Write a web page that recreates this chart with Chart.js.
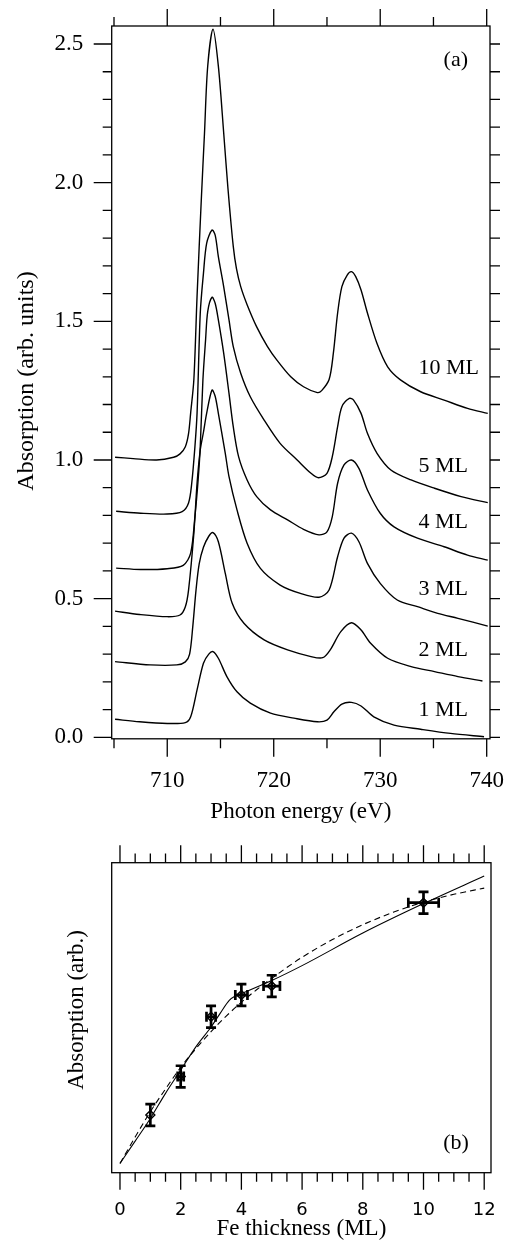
<!DOCTYPE html>
<html>
<head>
<meta charset="utf-8">
<script src="https://cdn.jsdelivr.net/npm/chart.js@4.4.1/dist/chart.umd.min.js"></script>
<style>
  html, body { margin: 0; padding: 0; background: #fff; }
  #wrap { position: relative; width: 512px; height: 1251px; }
  canvas { position: absolute; left: 0; }
  #spectra { top: 0; }
  #thickness { top: 830px; }
</style>
</head>
<body>
<div id="wrap">
  <canvas id="spectra" width="512" height="830"></canvas>
  <canvas id="thickness" width="512" height="421"></canvas>
</div>
<script>
// ---- panel (a): absorption spectra, energy (eV) / absorption pairs per thickness ----
const e10 = [705.1, 706.8, 709.0, 710.6, 711.2, 711.7, 712.0, 712.2, 712.5, 712.8, 713.2, 713.5, 713.8, 714.3, 714.8, 715.3, 715.7, 716.2, 716.5, 716.9, 717.5, 718.4, 719.4, 720.3, 721.6, 722.8, 724.1, 724.5, 725.2, 725.6, 726.0, 726.4, 726.9, 727.3, 727.7, 728.2, 728.8, 729.7, 730.7, 731.9, 733.8, 736.0, 738.2, 740.1];
const a10 = [1.01, 1.005, 1.0, 1.01, 1.022, 1.048, 1.095, 1.17, 1.29, 1.59, 1.94, 2.18, 2.42, 2.553, 2.42, 2.18, 1.98, 1.77, 1.69, 1.625, 1.56, 1.48, 1.41, 1.36, 1.30, 1.264, 1.243, 1.25, 1.29, 1.385, 1.53, 1.625, 1.667, 1.679, 1.661, 1.613, 1.53, 1.42, 1.336, 1.289, 1.246, 1.216, 1.186, 1.168];

const e5 = [705.2, 707.5, 710.0, 711.4, 712.0, 712.3, 712.6, 712.8, 713.1, 713.4, 713.7, 714.2, 714.5, 714.8, 715.3, 715.8, 716.2, 716.9, 717.8, 719.1, 720.6, 722.2, 723.5, 724.2, 725.0, 725.5, 726.0, 726.4, 727.1, 727.5, 728.2, 728.8, 729.7, 731.0, 732.9, 735.1, 737.6, 740.1];
const a5 = [0.815, 0.808, 0.805, 0.814, 0.845, 0.916, 1.048, 1.168, 1.529, 1.673, 1.781, 1.829, 1.811, 1.733, 1.625, 1.505, 1.409, 1.313, 1.228, 1.144, 1.06, 1.0, 0.952, 0.936, 0.952, 1.012, 1.12, 1.192, 1.222, 1.216, 1.168, 1.096, 1.024, 0.964, 0.928, 0.898, 0.868, 0.846];

const e4 = [705.2, 707.5, 710.0, 711.5, 712.2, 712.6, 712.9, 713.1, 713.35, 713.6, 713.8, 714.2, 714.5, 714.8, 715.3, 715.8, 716.2, 716.7, 717.5, 718.4, 719.7, 721.3, 722.8, 724.25, 725.0, 725.5, 726.0, 726.6, 727.3, 728.0, 728.8, 730.0, 731.3, 733.5, 736.0, 738.2, 740.1];
const a4 = [0.61, 0.605, 0.608, 0.62, 0.664, 0.796, 0.928, 1.048, 1.289, 1.433, 1.535, 1.587, 1.565, 1.505, 1.385, 1.24, 1.12, 1.012, 0.928, 0.868, 0.82, 0.784, 0.75, 0.73, 0.741, 0.796, 0.916, 0.982, 1.0, 0.97, 0.892, 0.808, 0.759, 0.718, 0.687, 0.657, 0.639];

const e3 = [705.1, 707.4, 710.0, 711.2, 711.7, 712.0, 712.5, 712.8, 713.1, 713.4, 713.7, 714.2, 714.5, 714.8, 715.45, 715.8, 716.55, 717.5, 718.75, 720.6, 722.5, 724.25, 725.2, 726.0, 726.6, 727.3, 728.0, 728.8, 730.0, 731.6, 733.5, 735.4, 737.3, 740.1];
const a3 = [0.455, 0.443, 0.435, 0.441, 0.471, 0.531, 0.736, 0.916, 1.036, 1.10, 1.168, 1.252, 1.23, 1.168, 1.024, 0.94, 0.82, 0.70, 0.609, 0.549, 0.519, 0.505, 0.531, 0.651, 0.718, 0.736, 0.705, 0.627, 0.555, 0.495, 0.471, 0.447, 0.429, 0.401];

const e2 = [705.1, 708.4, 710.9, 711.7, 712.1, 712.4, 712.7, 713.0, 713.4, 713.9, 714.3, 714.8, 715.45, 716.1, 717.2, 719.1, 721.3, 723.5, 724.6, 725.3, 726.3, 727.3, 728.2, 729.1, 730.7, 732.9, 735.1, 737.3, 739.6];
const a2 = [0.273, 0.261, 0.261, 0.272, 0.30, 0.40, 0.53, 0.625, 0.685, 0.725, 0.738, 0.705, 0.591, 0.483, 0.411, 0.351, 0.315, 0.291, 0.287, 0.315, 0.381, 0.413, 0.387, 0.339, 0.285, 0.255, 0.237, 0.219, 0.203];

const e1 = [705.1, 707.4, 710.0, 711.7, 712.2, 712.8, 713.4, 713.9, 714.3, 714.8, 715.6, 716.55, 717.8, 719.7, 721.9, 724.1, 725.0, 725.65, 726.4, 727.3, 728.2, 729.4, 731.3, 733.8, 736.6, 739.75];
const a1 = [0.065, 0.056, 0.05, 0.053, 0.074, 0.171, 0.267, 0.30, 0.309, 0.285, 0.219, 0.164, 0.123, 0.087, 0.069, 0.056, 0.062, 0.092, 0.12, 0.126, 0.113, 0.074, 0.044, 0.029, 0.014, 0.002];

const curveNames = ['10 ML', '5 ML', '4 ML', '3 ML', '2 ML', '1 ML'];
const curveLabelE = 733.6;
const curveLabelA = [1.332, 0.978, 0.775, 0.535, 0.313, 0.097];

const energyTicks = [710, 720, 730, 740];
const energyMinor = [705, 715, 725, 735];
const absTicks = [0, 0.5, 1.0, 1.5, 2.0, 2.5];
const absMinor = [];
for (let i = 1; i < 25; i++) if (i % 5) absMinor.push(i / 10);

// ---- panel (b): peak absorption vs Fe thickness ----
const thickness = [1, 2, 3, 4, 5, 10];
const peakAbs = [0.186, 0.31, 0.503, 0.573, 0.602, 0.871];
const thickErr = [0, 0.1, 0.15, 0.2, 0.27, 0.5];
const absErr = [0.035, 0.035, 0.035, 0.035, 0.035, 0.035];

const solidX = [0, 0.5, 1, 1.5, 2, 2.5, 3, 3.3, 3.6, 3.8, 4, 5, 6, 8, 10, 12];
const solidY = [0.03, 0.102, 0.175, 0.256, 0.331, 0.406, 0.47, 0.514, 0.556, 0.57, 0.578, 0.62, 0.668, 0.773, 0.868, 0.957];
const dashX = [0, 0.5, 1, 1.5, 2, 2.5, 3, 3.5, 4, 4.5, 5, 6, 7, 8, 9, 10, 11, 12];
const dashY = [0.03, 0.115, 0.197, 0.27, 0.34, 0.4, 0.455, 0.505, 0.55, 0.59, 0.627, 0.695, 0.752, 0.8, 0.84, 0.873, 0.898, 0.918];

const thickTicks = [0, 2, 4, 6, 8, 10, 12];
const thickMinor = [];
for (let i = 1; i < 24; i++) if (i % 4) thickMinor.push(i / 2);

Chart.defaults.font.family = "'Liberation Serif', 'Times New Roman', serif";
Chart.defaults.color = '#000';

function toPoints(xs, ys) {
    return xs.map((v, i) => ({ x: v, y: ys[i] }));
}

// keep axis boxes at the fixed size, no extra room for overhanging labels
function fixBox(size) {
    return s => {
        if (s.isHorizontal()) s.height = size; else s.width = size;
        s.paddingLeft = s.paddingRight = s.paddingTop = s.paddingBottom = 0;
    };
}

// box, tick marks and free text drawn with the chart's own scales
function makeFrame(cfg) {
    return {
        id: 'frame',
        afterDraw(chart) {
            const { ctx, chartArea: a } = chart;
            const xs = chart.scales.x, ys = chart.scales.y;
            ctx.save();
            ctx.strokeStyle = '#000';
            ctx.lineWidth = 1.3;
            ctx.strokeRect(a.left, a.top, a.right - a.left, a.bottom - a.top);
            ctx.beginPath();
            const mark = (side, values, len) => {
                values.forEach(v => {
                    if (side === 'top' || side === 'bottom') {
                        const p = xs.getPixelForValue(v);
                        const y0 = side === 'top' ? a.top : a.bottom;
                        ctx.moveTo(p, y0);
                        ctx.lineTo(p, y0 + (side === 'top' ? -len : len));
                    } else {
                        const p = ys.getPixelForValue(v);
                        const x0 = side === 'left' ? a.left : a.right;
                        ctx.moveTo(x0, p);
                        ctx.lineTo(x0 + (side === 'left' ? -len : len), p);
                    }
                });
            };
            cfg.ticks.forEach(t => {
                mark(t.side, t.major, t.majorLen);
                mark(t.side, t.minor, t.minorLen);
            });
            ctx.stroke();

            ctx.fillStyle = '#000';
            ctx.textBaseline = 'middle';
            cfg.texts.forEach(t => {
                ctx.font = t.font;
                ctx.textAlign = t.align;
                ctx.fillText(t.text, xs.getPixelForValue(t.x), ys.getPixelForValue(t.y));
            });

            // rotated y title
            const yt = cfg.yTitle;
            ctx.translate(yt.cx, yt.cy);
            ctx.rotate(-Math.PI / 2);
            ctx.font = yt.font;
            ctx.textAlign = 'center';
            ctx.fillText(yt.text, 0, 0);
            ctx.restore();
        }
    };
}

const errorBars = {
    id: 'errorBars',
    afterDatasetsDraw(chart) {
        const { ctx } = chart;
        const x = chart.scales.x, y = chart.scales.y;
        const cap = 5;
        ctx.save();
        ctx.strokeStyle = '#000';
        ctx.lineWidth = 2.7;
        ctx.beginPath();
        thickness.forEach((t, i) => {
            const px = x.getPixelForValue(t);
            const py = y.getPixelForValue(peakAbs[i]);
            const y1 = y.getPixelForValue(peakAbs[i] - absErr[i]);
            const y2 = y.getPixelForValue(peakAbs[i] + absErr[i]);
            ctx.moveTo(px, y1); ctx.lineTo(px, y2);
            ctx.moveTo(px - cap, y1); ctx.lineTo(px + cap, y1);
            ctx.moveTo(px - cap, y2); ctx.lineTo(px + cap, y2);
            if (thickErr[i] > 0) {
                const x1 = x.getPixelForValue(t - thickErr[i]);
                const x2 = x.getPixelForValue(t + thickErr[i]);
                ctx.moveTo(x1, py); ctx.lineTo(x2, py);
                ctx.moveTo(x1, py - cap); ctx.lineTo(x1, py + cap);
                ctx.moveTo(x2, py - cap); ctx.lineTo(x2, py + cap);
            }
        });
        ctx.stroke();
        ctx.restore();
    }
};

// --- panel (a) ---
const spectraSets = [[e10, a10], [e5, a5], [e4, a4], [e3, a3], [e2, a2], [e1, a1]].map(([e, a]) => ({
    data: toPoints(e, a),
    borderColor: '#000',
    borderWidth: 1.4,
    pointRadius: 0,
    fill: false,
    tension: 0.3
}));

const spectraTexts = curveNames.map((n, i) => ({
    text: n, x: curveLabelE, y: curveLabelA[i], align: 'left', font: "22px 'Liberation Serif'"
}));
spectraTexts.push({ text: '(a)', x: 737.1, y: 2.442, align: 'center', font: "22px 'Liberation Serif'" });

new Chart(document.getElementById('spectra'), {
    type: 'line',
    data: { datasets: spectraSets },
    options: {
        responsive: false,
        animation: false,
        devicePixelRatio: 1,
        layout: { autoPadding: false, padding: { top: 26, right: 22, left: 0, bottom: 0 } },
        plugins: { legend: { display: false }, tooltip: { enabled: false } },
        scales: {
            x: {
                type: 'linear', min: 704.784, max: 740.31,
                afterBuildTicks: s => { s.ticks = energyTicks.map(v => ({ value: v })); },
                afterFit: fixBox(91.2),
                grid: { display: false, drawTicks: false },
                border: { display: false },
                ticks: { autoSkip: false, maxRotation: 0, padding: 28.4, font: { size: 23, lineHeight: 1.2 }, callback: v => String(v) },
                title: { display: true, text: 'Photon energy (eV)', font: { size: 23, lineHeight: 1.2 }, padding: { top: 0, bottom: 4.2 } }
            },
            y: {
                type: 'linear', min: -0.0054, max: 2.5649,
                afterBuildTicks: s => { s.ticks = absTicks.map(v => ({ value: v })); },
                afterFit: fixBox(111.7),
                grid: { display: false, drawTicks: false },
                border: { display: false },
                ticks: { autoSkip: false, padding: 28.4, font: { size: 23, lineHeight: 1.2 }, callback: v => v.toFixed(1) }
            }
        }
    },
    plugins: [makeFrame({
        ticks: [
            { side: 'bottom', major: energyTicks, minor: energyMinor, majorLen: 18, minorLen: 9.5 },
            { side: 'top', major: energyTicks, minor: energyMinor, majorLen: 17, minorLen: 9 },
            { side: 'left', major: absTicks, minor: absMinor, majorLen: 18, minorLen: 9 },
            { side: 'right', major: absTicks, minor: absMinor, majorLen: 10, minorLen: 10 }
        ],
        texts: spectraTexts,
        yTitle: { text: 'Absorption (arb. units)', cx: 27, cy: 381, font: "24px 'Liberation Serif'" }
    })]
});

// --- panel (b) ---
new Chart(document.getElementById('thickness'), {
    type: 'line',
    data: {
        datasets: [
            {
                data: toPoints(thickness, peakAbs),
                showLine: false,
                pointStyle: 'rectRot',
                pointRadius: 4.5,
                pointBorderWidth: 1.4,
                pointBorderColor: '#000',
                pointBackgroundColor: 'rgba(0,0,0,0)'
            },
            {
                data: toPoints(solidX, solidY),
                borderColor: '#000', borderWidth: 1.1, pointRadius: 0,
                cubicInterpolationMode: 'monotone'
            },
            {
                data: toPoints(dashX, dashY),
                borderColor: '#000', borderWidth: 1.1, borderDash: [6, 4], pointRadius: 0,
                cubicInterpolationMode: 'monotone'
            }
        ]
    },
    options: {
        responsive: false,
        animation: false,
        devicePixelRatio: 1,
        layout: { autoPadding: false, padding: { top: 32.7, right: 21, left: 111.7, bottom: 0 } },
        plugins: { legend: { display: false }, tooltip: { enabled: false } },
        scales: {
            x: {
                type: 'linear', min: -0.273, max: 12.224,
                afterBuildTicks: s => { s.ticks = thickTicks.map(v => ({ value: v })); },
                afterFit: fixBox(78.3),
                grid: { display: false, drawTicks: false },
                border: { display: false },
                ticks: { autoSkip: false, maxRotation: 0, padding: 27, font: { family: "'DejaVu Sans', sans-serif", size: 18, lineHeight: 1.2 }, callback: v => String(v) },
                title: { display: true, text: 'Fe thickness (ML)', font: { size: 23, lineHeight: 1.2 }, padding: { top: 0, bottom: 8 } }
            },
            y: { type: 'linear', min: 0, max: 1, display: false }
        }
    },
    plugins: [makeFrame({
        ticks: [
            { side: 'bottom', major: thickTicks, minor: thickMinor, majorLen: 17, minorLen: 9 },
            { side: 'top', major: thickTicks, minor: thickMinor, majorLen: 17.5, minorLen: 9.3 }
        ],
        texts: [{ text: '(b)', x: 11.07, y: 0.096, align: 'center', font: "22px 'Liberation Serif'" }],
        yTitle: { text: 'Absorption (arb.)', cx: 77, cy: 180, font: "23px 'Liberation Serif'" }
    }), errorBars]
});
</script>
</body>
</html>
